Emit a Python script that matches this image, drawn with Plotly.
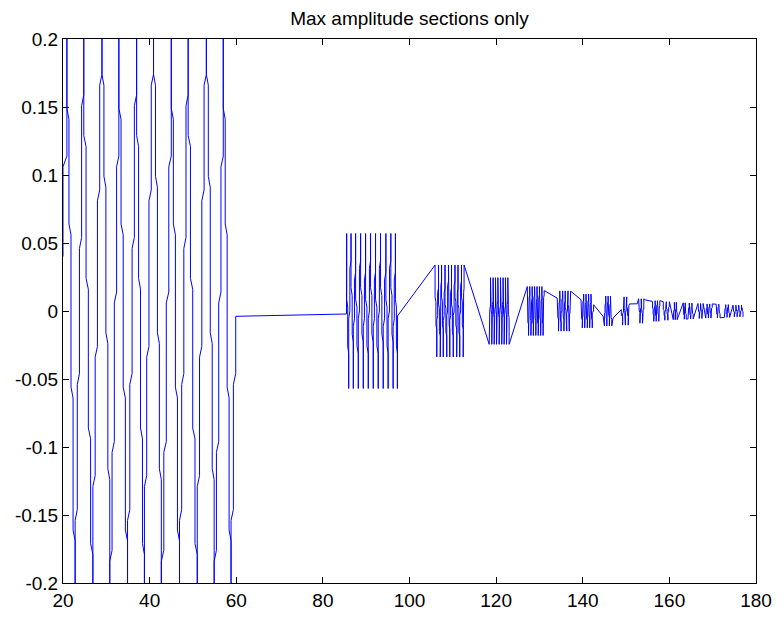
import plotly.graph_objects as go

# ---------------- data ----------------
# Section 1 (large oscillation, clipped by the axes)
s1_start = (20.0, 0.04)
s1_peak_x = [20.9, 24.8, 29.0, 32.9, 37.0, 40.9, 45.0, 48.9, 53.1, 57.0]
s1_trough_x = [22.8, 26.9, 30.8, 34.9, 38.8, 42.7, 46.9, 51.0, 54.9, 58.8]
s1_peak_y = 0.21
s1_trough_y = -0.21
s1_end = (59.88, -0.0039)
s1_down_jogs = [[0.17, 0.095, -0.02, -0.12], [0.145, 0.06, -0.06, -0.165],
                [0.125, 0.02, -0.09, -0.175]]
s1_up_jogs = [[-0.18, -0.1, 0.01, 0.11], [-0.15, -0.05, 0.05, 0.155],
              [-0.125, -0.03, 0.085, 0.17]]

# relative jog heights (fraction of amplitude) used for the dense sections
dense_jogs = [[0.45, -0.15], [0.1, -0.5], [0.6, -0.05], [0.25, -0.35]]

# Remaining sections: vertex x positions, amplitude, first / last vertex y, first sign
sections = [
    dict(xs=[85.45, 85.5, 85.96, 86.5, 87.03, 87.56, 88.18, 88.71, 89.33, 89.86, 90.48,
             91.01, 91.63, 92.16, 92.78, 93.31, 93.93, 94.55, 95.07, 95.69, 96.22,
             96.75, 97.2, 97.25],
         amp=0.057, y0=-0.0022, y1=-0.0036, sign=-1),
    dict(xs=[105.9, 106.3, 106.7, 107.1, 107.4, 107.8, 108.2, 108.6, 109.0, 109.3,
             109.7, 110.1, 110.5, 110.9, 111.2, 111.6, 112.0, 112.4, 112.6],
         amp=0.0338, y0=None, y1=None, sign=1),
    dict(xs=[118.4, 118.7, 119.0, 119.3, 119.55, 119.85, 120.1, 120.4, 120.7, 121.0,
             121.3, 121.6, 121.85, 122.15, 122.4, 122.7, 123.0],
         amp=0.0245, y0=None, y1=None, sign=-1),
    dict(xs=[127.2, 127.48, 127.76, 128.04, 128.32, 128.6, 128.88, 129.16, 129.44,
             129.72, 130.0, 130.28, 130.56, 130.84, 131.1],
         amp=0.018, y0=None, y1=0.015, sign=1),
    dict(xs=[134.1, 134.4, 134.7, 135.0, 135.35, 135.65, 135.95, 136.3, 136.6, 136.9, 137.2],
         amp=0.0148, y0=0.0095, y1=0.0146, sign=1),
    dict(xs=[139.6, 139.9, 140.2, 140.45, 140.75, 141.05, 141.35, 141.6, 141.9, 142.2, 142.5],
         amp=0.0124, y0=0.0083, y1=0.0046, sign=1),
    dict(xs=[144.7, 145.0, 145.3, 145.55, 145.85, 146.15, 146.4, 146.7, 147.0],
         amp=0.011, y0=-0.0039, y1=-0.0051, sign=1),
    dict(xs=[148.9, 149.2, 149.55, 149.85, 150.15, 150.5, 150.8],
         amp=0.0104, y0=0.001, y1=0.0053, sign=1),
    dict(xs=[152.6, 152.9, 153.2, 153.5, 153.8, 154.1, 154.4],
         amp=0.009, y0=0.0053, y1=0.0082, sign=-1),
    dict(xs=[156.1, 156.4, 156.7, 156.95, 157.25, 157.55, 157.8],
         amp=0.0076, y0=0.007, y1=None, sign=1),
    dict(xs=[158.6, 158.95, 159.3, 159.65, 160.0], amp=0.0068, y0=None, y1=None, sign=1),
    dict(xs=[160.9, 161.15, 161.35, 161.6, 161.8], amp=0.0064, y0=None, y1=None, sign=-1),
    dict(xs=[163.2, 163.45, 163.65, 163.9], amp=0.006, y0=None, y1=None, sign=1),
    dict(xs=[164.3, 164.6, 164.9, 165.2, 165.5], amp=0.0058, y0=None, y1=None, sign=-1),
    dict(xs=[166.6, 166.9, 167.2, 167.5, 167.8], amp=0.0055, y0=None, y1=None, sign=1),
    dict(xs=[168.4, 168.7, 169.0, 169.3, 169.6, 169.9], amp=0.0052, y0=None, y1=None, sign=-1),
    dict(xs=[170.8, 171.1, 171.4, 171.7], amp=0.005, y0=None, y1=None, sign=1),
    dict(xs=[172.7, 173.0, 173.3, 173.6, 173.9], amp=0.0047, y0=None, y1=None, sign=-1),
    dict(xs=[174.7, 175.0, 175.35, 175.65, 176.0, 176.3, 176.65, 177.0],
         amp=0.0043, y0=None, y1=None, sign=1),
]

title_text = "Max amplitude sections only"
x_ticks = [20, 40, 60, 80, 100, 120, 140, 160, 180]
y_ticks = [-0.2, -0.15, -0.1, -0.05, 0, 0.05, 0.1, 0.15, 0.2]
y_tick_text = ["-0.2", "-0.15", "-0.1", "-0.05", "0", "0.05", "0.1", "0.15", "0.2"]

# ---------------- build polyline ----------------


def stroke(xa, ya, xb, yb, levels, d):
    """staircase stroke from (xa,ya) to (xb,yb): vertical runs joined by short jogs"""
    lo, hi = min(ya, yb), max(ya, yb)
    lv = [L for L in levels if lo + d < L < hi - d]
    if yb < ya:
        lv = sorted(lv, reverse=True)
        s = 1
    else:
        lv = sorted(lv)
        s = -1
    n = len(lv)
    pts = [(xa, ya)]
    for j, L in enumerate(lv):
        x1 = xa + (xb - xa) * j / n
        x2 = xa + (xb - xa) * (j + 1) / n
        pts.append((x1, L + s * d))
        pts.append((x2, L - s * d))
    pts.append((xb, yb))
    return pts


pts = []
cur = s1_start
for k, (px, tx) in enumerate(zip(s1_peak_x, s1_trough_x)):
    seg = stroke(cur[0], cur[1], px, s1_peak_y, s1_up_jogs[k % 3], 0.004)
    pts.extend(seg if not pts else seg[1:])
    seg = stroke(px, s1_peak_y, tx, s1_trough_y, s1_down_jogs[(k + 1) % 3], 0.004)
    pts.extend(seg[1:])
    cur = (tx, s1_trough_y)
seg = stroke(cur[0], cur[1], s1_end[0], s1_end[1], s1_up_jogs[1], 0.004)
pts.extend(seg[1:])

count = 0
for sec in sections:
    xs = sec["xs"]
    amp = sec["amp"]
    ys = []
    sgn = sec["sign"]
    for i in range(len(xs)):
        ys.append(sgn * amp)
        sgn = -sgn
    if sec["y0"] is not None:
        ys[0] = sec["y0"]
    if sec["y1"] is not None:
        ys[-1] = sec["y1"]
    d = 0.05 * amp
    pts.append((xs[0], ys[0]))
    for i in range(1, len(xs)):
        levels = [f * amp for f in dense_jogs[count % len(dense_jogs)]]
        count += 1
        seg = stroke(xs[i - 1], ys[i - 1], xs[i], ys[i], levels, d)
        pts.extend(seg[1:])

X = [p[0] for p in pts]
Y = [p[1] for p in pts]

# ---------------- figure ----------------
fig = go.Figure()
fig.add_trace(go.Scatter(x=X, y=Y, mode="lines",
                         line=dict(color="#0000ff", width=1),
                         hoverinfo="skip", showlegend=False))

font = dict(family="Liberation Sans, Arial, sans-serif", size=19, color="black")
axis_common = dict(showline=True, linecolor="black", linewidth=1, mirror="ticks",
                   ticks="inside", ticklen=6, tickcolor="black", tickwidth=1,
                   showgrid=False, zeroline=False, tickfont=font)

fig.update_layout(
    width=784, height=623,
    margin=dict(l=63, r=24, t=39, b=36),
    paper_bgcolor="white", plot_bgcolor="white",
    title=dict(text=title_text, x=0.5, xref="paper", xanchor="center",
               y=1 - 18 / 623, yref="container", yanchor="middle", font=font),
    xaxis=dict(range=[20, 180], tickvals=x_ticks, **axis_common),
    yaxis=dict(range=[-0.2, 0.2], tickvals=y_ticks, ticktext=y_tick_text, **axis_common),
)

fig.write_html("out.html")
